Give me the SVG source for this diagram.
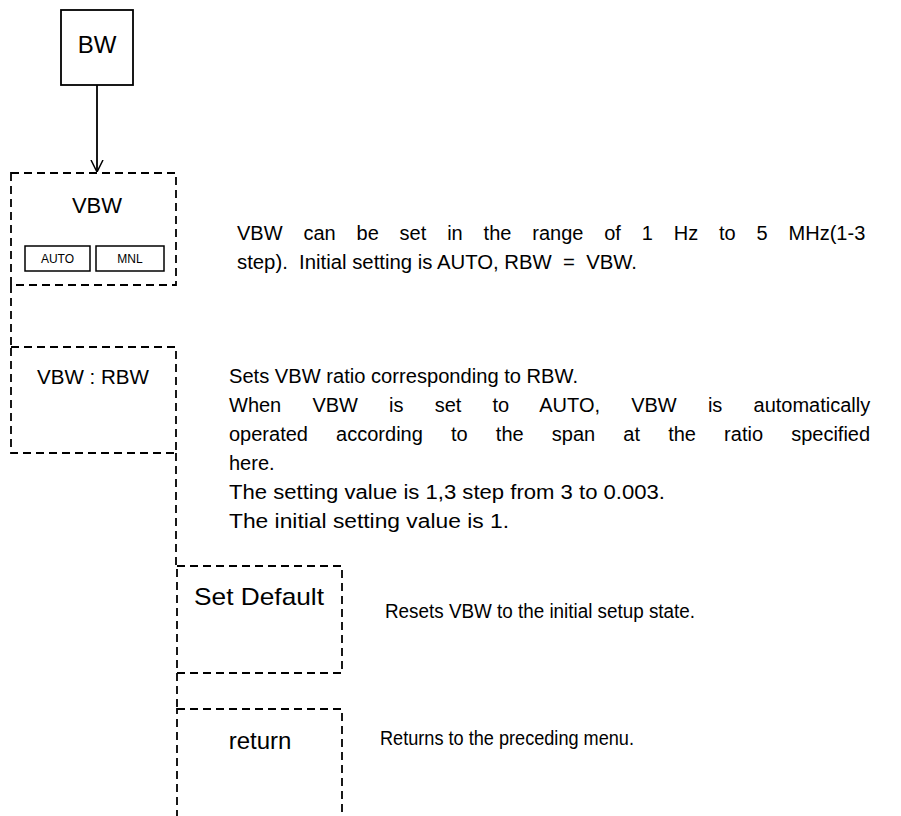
<svg xmlns="http://www.w3.org/2000/svg" width="901" height="816" viewBox="0 0 901 816">
<style>
.solid{fill:none;stroke:#000;stroke-width:1.8}
.dash{fill:none;stroke:#000;stroke-width:1.8;stroke-dasharray:8 5}
.lbl{font-family:"Liberation Sans",Arial,sans-serif;fill:#000;text-anchor:middle}
.desc{font-family:"Liberation Sans",Arial,sans-serif;fill:#000;font-size:20px}
.btn{fill:none;stroke:#000;stroke-width:1.5}
</style>
<defs>
<marker id="arr" viewBox="0 0 12 22" refX="12" refY="11" markerWidth="12" markerHeight="22" markerUnits="userSpaceOnUse" orient="auto">
<path d="M0,5 L12,11 L0,17" fill="none" stroke="#000" stroke-width="1.5"/>
</marker>
</defs>
<rect width="901" height="816" fill="#fff"/>
<g id="connectors">
<line x1="97" y1="85" x2="97" y2="172" class="solid" marker-end="url(#arr)"/>
<line x1="11" y1="285" x2="11" y2="347" class="dash"/>
<line x1="176" y1="453" x2="176" y2="566" class="dash"/>
<line x1="177" y1="673" x2="177" y2="709" class="dash"/>
</g>
<g id="node-bw">
<rect x="61" y="10" width="72" height="75" class="solid"/>
<text x="97" y="53" class="lbl" font-size="24">BW</text>
</g>
<g id="node-vbw">
<rect x="11" y="173" width="165" height="112" class="dash"/>
<text x="97" y="213" class="lbl" font-size="22">VBW</text>
<rect x="25" y="246" width="65" height="25" class="btn"/>
<rect x="96" y="246" width="68" height="25" class="btn"/>
<text x="57.5" y="263" class="lbl" font-size="12">AUTO</text>
<text x="130" y="263" class="lbl" font-size="12">MNL</text>
</g>
<g id="node-vbw-rbw">
<rect x="11" y="347" width="165" height="106" class="dash"/>
<text x="93" y="384" class="lbl" font-size="20" textLength="112" lengthAdjust="spacingAndGlyphs">VBW : RBW</text>
</g>
<g id="node-set-default">
<rect x="177" y="566" width="165" height="107" class="dash"/>
<text x="259" y="605" class="lbl" font-size="24" textLength="130" lengthAdjust="spacingAndGlyphs">Set Default</text>
</g>
<g id="node-return">
<rect x="177" y="709" width="165" height="130" class="dash"/>
<text x="260" y="749" class="lbl" font-size="24">return</text>
</g>
<g id="desc-vbw" class="desc">
<text x="237" y="240" style="word-spacing:15.3px">VBW can be set in the range of 1 Hz to 5 MHz(1-3</text>
<text x="237" y="269" xml:space="preserve" textLength="400" lengthAdjust="spacingAndGlyphs">step).  Initial setting is AUTO, RBW  =  VBW.</text>
</g>
<g id="desc-vbw-rbw" class="desc">
<text x="229" y="383" textLength="349" lengthAdjust="spacingAndGlyphs">Sets VBW ratio corresponding to RBW.</text>
<text x="229" y="412" style="word-spacing:25.6px">When VBW is set to AUTO, VBW is automatically</text>
<text x="229" y="441" style="word-spacing:22.6px">operated according to the span at the ratio specified</text>
<text x="229" y="470">here.</text>
<text x="229" y="499" textLength="436" lengthAdjust="spacingAndGlyphs">The setting value is 1,3 step from 3 to 0.003.</text>
<text x="229" y="528" textLength="280" lengthAdjust="spacingAndGlyphs">The initial setting value is 1.</text>
</g>
<g id="desc-set-default" class="desc">
<text x="385" y="618" textLength="310" lengthAdjust="spacingAndGlyphs">Resets VBW to the initial setup state.</text>
</g>
<g id="desc-return" class="desc">
<text x="380" y="745" textLength="254" lengthAdjust="spacingAndGlyphs">Returns to the preceding menu.</text>
</g>
</svg>
